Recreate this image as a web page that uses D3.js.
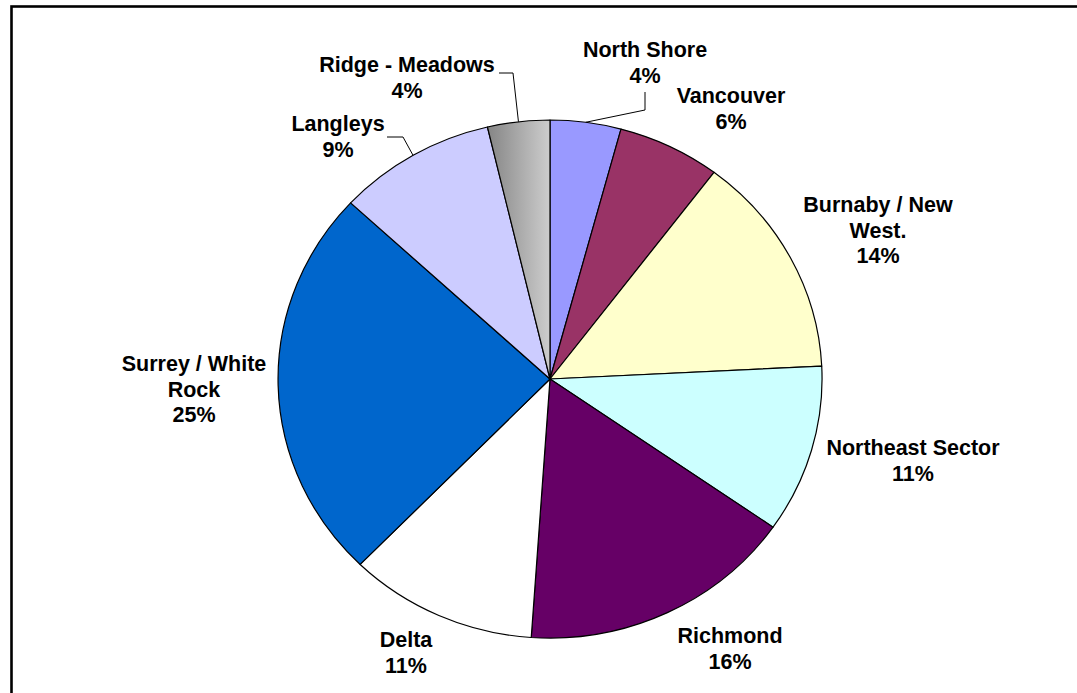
<!DOCTYPE html>
<html lang="en">
<head>
    <meta charset="UTF-8">
    <title>Share by Region</title>
    <script src="https://d3js.org/d3.v7.min.js"></script>
    <style>
        body { margin: 0; background: #fff; }
        svg { display: block; }
        .lbl { font-family: "Liberation Sans", Arial, sans-serif; font-weight: bold; font-size: 21.5px; fill: #000; }
    </style>
</head>
<body>
<svg id="chart" width="1077" height="693"></svg>

<script>
    // slice order: clockwise from 12 o'clock
    const regions = ["North Shore", "Vancouver", "Burnaby / New West.", "Northeast Sector",
        "Richmond", "Delta", "Surrey / White Rock", "Langleys", "Ridge - Meadows"];
    const shares = [4.2, 6.1, 13.9, 10.5, 16.4, 11.2, 24.6, 9.4, 3.7];
    const pctLabels = ["4%", "6%", "14%", "11%", "16%", "11%", "25%", "9%", "4%"];
    const labelLines = [["North Shore"], ["Vancouver"], ["Burnaby / New", "West."], ["Northeast Sector"],
        ["Richmond"], ["Delta"], ["Surrey / White", "Rock"], ["Langleys"], ["Ridge - Meadows"]];
    const colors = ["#9999ff", "#993366", "#ffffcc", "#ccffff", "#660066", "#ffffff", "#0066cc", "#ccccff", "url(#grayGrad)"];

    // layout (label anchor = centre x, first baseline y)
    const cx = 550, cy = 379, rx = 272, ry = 259, lineH = 25.5;
    const labelPos = [[645, 57], [731, 103], [878, 212], [913, 455], [730, 643],
        [406, 647], [194, 371], [338, 131], [407, 72]];
    // leader lines: knee points, then the slice edge at mid angle
    const leaders = {0: [[645, 92], [645, 110]], 7: [[387, 137], [403, 137]], 8: [[499, 73], [513, 73]]};

    const svg = d3.select("#chart");

    const defs = svg.append("defs");
    const grad = defs.append("linearGradient").attr("id", "grayGrad")
        .attr("x1", 0).attr("y1", 0).attr("x2", 1).attr("y2", 0);
    grad.append("stop").attr("offset", "0%").attr("stop-color", "#858585");
    grad.append("stop").attr("offset", "100%").attr("stop-color", "#cdcdcd");

    // outer frame
    svg.append("rect")
        .attr("x", 11.5).attr("y", 6.5)
        .attr("width", 1200).attr("height", 800)
        .attr("fill", "none").attr("stroke", "#000").attr("stroke-width", 2.6);

    const pie = d3.pie().sort(null).value(d => d)(shares);
    const arc = d3.arc().innerRadius(0).outerRadius(1);

    const g = svg.append("g")
        .attr("transform", `translate(${cx},${cy}) scale(${rx},${ry})`);

    g.selectAll("path")
        .data(pie)
        .enter().append("path")
        .attr("d", arc)
        .attr("fill", (d, i) => colors[i])
        .attr("stroke", "#000")
        .attr("stroke-width", 1.2)
        .attr("vector-effect", "non-scaling-stroke")
        .attr("stroke-linejoin", "round");

    // leader lines
    pie.forEach((d, i) => {
        if (!leaders[i]) return;
        const a = (d.startAngle + d.endAngle) / 2;
        const edge = [cx + rx * Math.sin(a), cy - ry * Math.cos(a)];
        svg.append("path")
            .attr("d", d3.line()(leaders[i].concat([edge])))
            .attr("fill", "none")
            .attr("stroke", "#000")
            .attr("stroke-width", 1);
    });

    // labels
    labelLines.forEach((lines, i) => {
        const t = svg.append("text").attr("class", "lbl").attr("text-anchor", "middle");
        lines.concat([pctLabels[i]]).forEach((s, k) => {
            t.append("tspan")
                .attr("x", labelPos[i][0])
                .attr("y", labelPos[i][1] + k * lineH)
                .text(s);
        });
    });
</script>
</body>
</html>
